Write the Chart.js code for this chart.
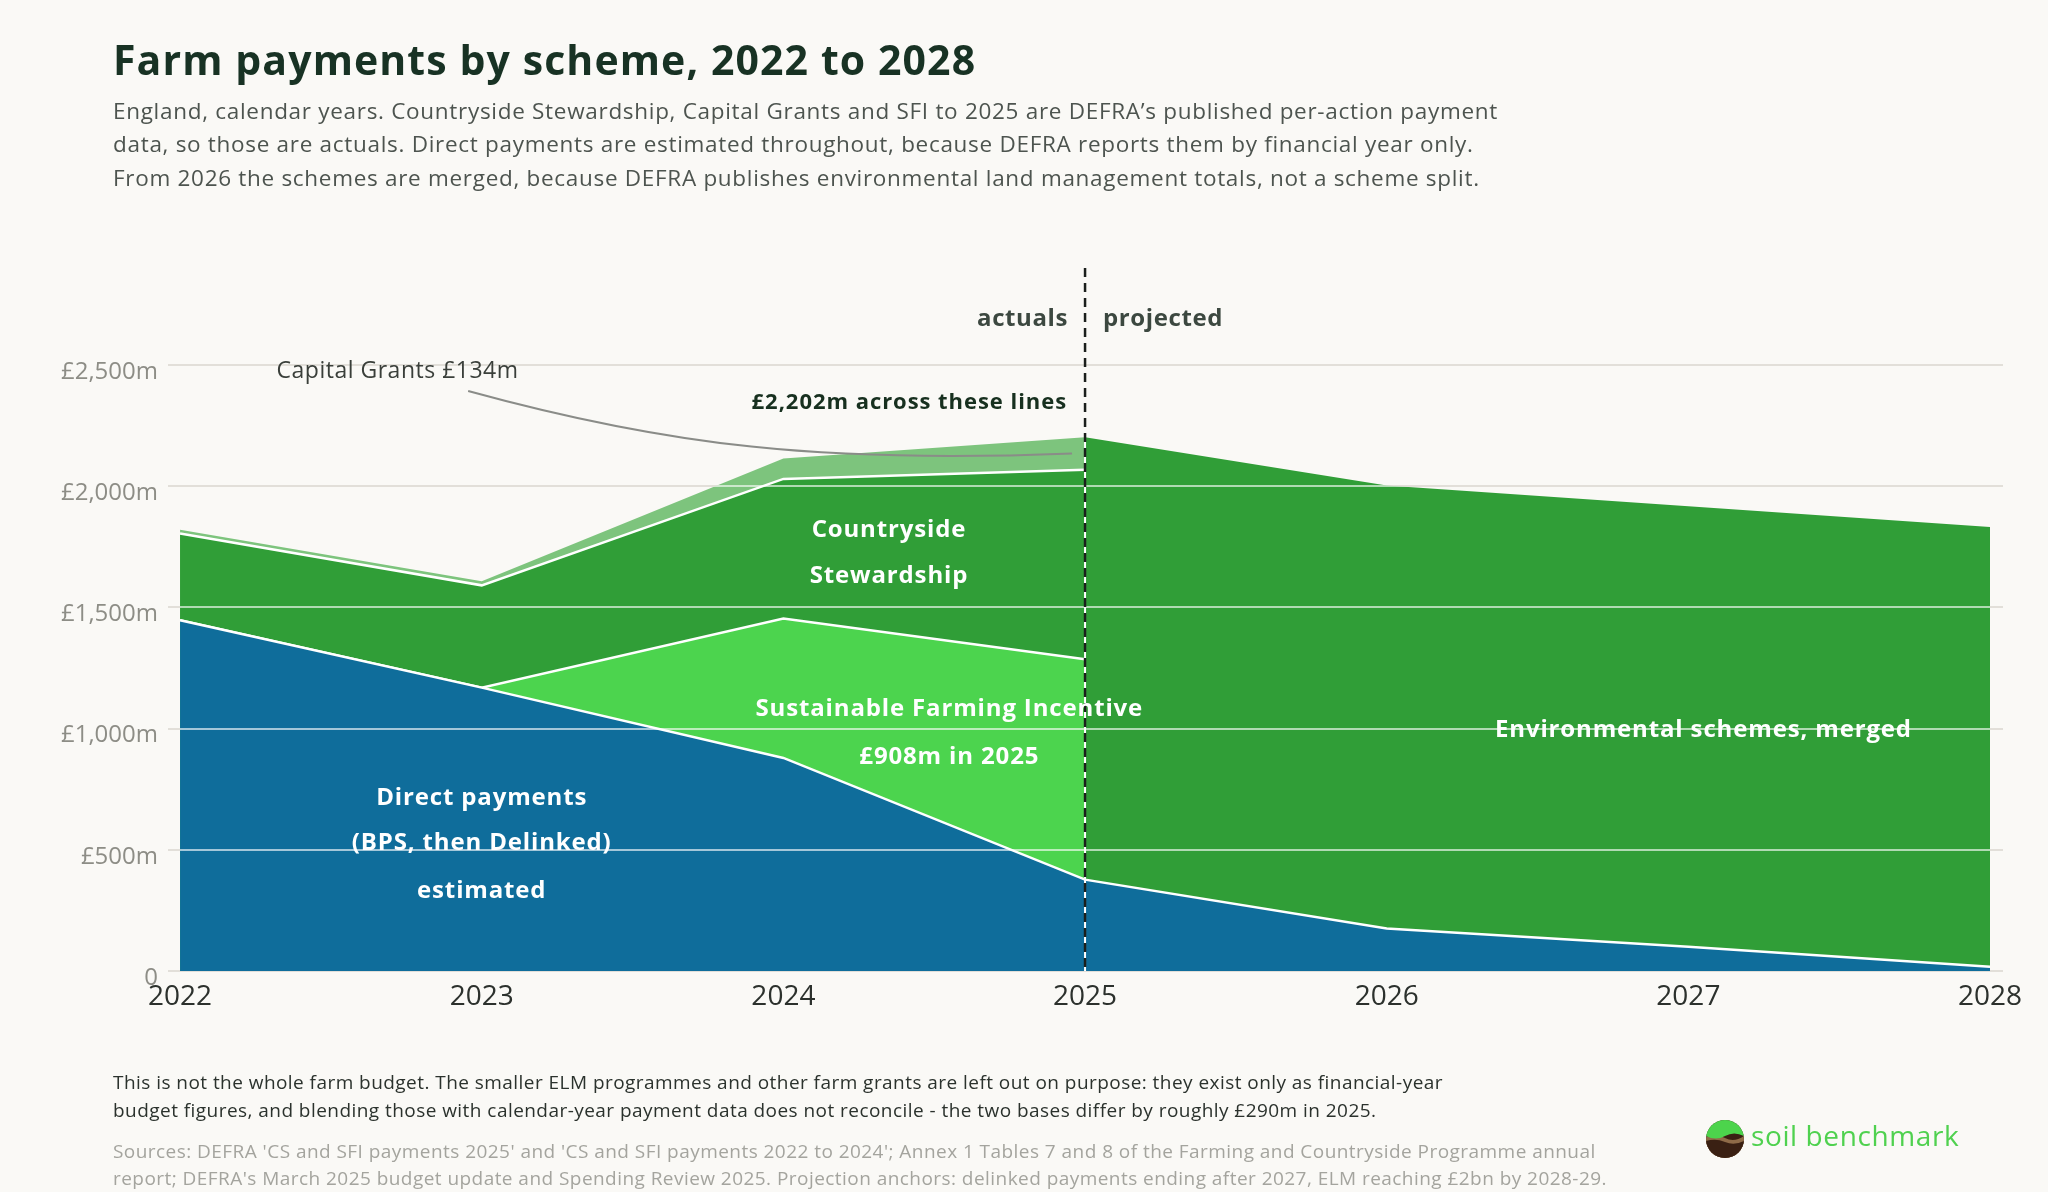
<!DOCTYPE html>
<html>
<head>
<meta charset="utf-8">
<script src="https://cdn.jsdelivr.net/npm/chart.js@4.4.1/dist/chart.umd.min.js"></script>
<style>
  html, body { margin: 0; padding: 0; background: #faf9f6; }
  #wrap { position: relative; width: 2048px; height: 1192px; overflow: hidden; font-family: "Open Sans", sans-serif; }
  #c { position: absolute; left: 0; top: 0; }
  .t { position: absolute; white-space: nowrap; }
  #title { left: 113px; top: 33px; font-size: 41px; font-weight: 700; line-height: 53px; letter-spacing: 1.1px; color: #183224; }
  #sub { left: 113px; top: 94px; font-size: 22.5px; line-height: 33.3px; letter-spacing: 0.7px; color: #4d544f; }
  #foot { left: 113px; top: 1068px; font-size: 19px; line-height: 28.4px; letter-spacing: 0.45px; color: #2b322d; }
  #src { left: 113px; top: 1138px; font-size: 19px; line-height: 26.7px; letter-spacing: 0.45px; color: #a4a49e; }
  #logo { left: 1706px; top: 1120px; }
  #brand { left: 1751px; top: 1117px; font-size: 28px; line-height: 36px; letter-spacing: 0.6px; color: #4fd14f; }
</style>
</head>
<body>
<div id="wrap">
  <canvas id="c" width="2048" height="1192"></canvas>
  <div class="t" id="title">Farm payments by scheme, 2022 to 2028</div>
  <div class="t" id="sub">England, calendar years. Countryside Stewardship, Capital Grants and SFI to 2025 are DEFRA’s published per-action payment<br>data, so those are actuals. Direct payments are estimated throughout, because DEFRA reports them by financial year only.<br>From 2026 the schemes are merged, because DEFRA publishes environmental land management totals, not a scheme split.</div>
  <div class="t" id="foot">This is not the whole farm budget. The smaller ELM programmes and other farm grants are left out on purpose: they exist only as financial-year<br>budget figures, and blending those with calendar-year payment data does not reconcile - the two bases differ by roughly £290m in 2025.</div>
  <div class="t" id="src">Sources: DEFRA 'CS and SFI payments 2025' and 'CS and SFI payments 2022 to 2024'; Annex 1 Tables 7 and 8 of the Farming and Countryside Programme annual<br>report; DEFRA's March 2025 budget update and Spending Review 2025. Projection anchors: delinked payments ending after 2027, ELM reaching £2bn by 2028-29.</div>
  <svg class="t" id="logo" width="38" height="38" viewBox="0 0 38 38">
    <defs><clipPath id="cl"><circle cx="19" cy="19" r="19"/></clipPath></defs>
    <g clip-path="url(#cl)">
      <rect width="38" height="38" fill="#3a2013"/>
      <path d="M0 17 Q10 13 19 18 T38 16 V38 H0Z" fill="#8f6b48"/>
      <path d="M0 21 Q10 18 19 22 T38 21 V38 H0Z" fill="#3a2013"/>
      <path d="M0 0 H38 V16 Q28 11 19 16 T0 16Z" fill="#4cd44c"/>
    </g>
  </svg>
  <div class="t" id="brand">soil benchmark</div>
</div>
<script>
// values in £m, calendar years
const years = [2022, 2023, 2024, 2025, 2026, 2027, 2028];
const actualYears = [2022, 2023, 2024, 2025];
const projYears = [2025, 2026, 2027, 2028];
const directPay = [1447, 1169, 879, 377, 175, 100, 18];
const sfiPay = [0, 0, 575, 909];
const csPay = [358, 422, 576, 782];
const capitalGrants = [15, 17, 84, 134];
const mergedPay = [1825, 1828, 1817, 1814];
const yTicks = [0, 500, 1000, 1500, 2000, 2500];

const BLUE = '#0f6d9b', GREEN = '#309e37', SFI_GREEN = '#4cd44e', CAP_GREEN = '#7dc47d';
const FONT = '"Open Sans", sans-serif';

// stacked tops, built from the arrays above
const directTop = years.map((yr, i) => ({ x: yr, y: directPay[i] }));
const sfiTop = actualYears.map((yr, i) => ({ x: yr, y: directPay[i] + sfiPay[i] }));
const csTop = actualYears.map((yr, i) => ({ x: yr, y: directPay[i] + sfiPay[i] + csPay[i] }));
const capTop = actualYears.map((yr, i) => ({ x: yr, y: directPay[i] + sfiPay[i] + csPay[i] + capitalGrants[i] }));
const mergedTop = projYears.map((yr, i) => ({ x: yr, y: directPay[years.indexOf(yr)] + mergedPay[i] }));

const total2025 = capTop[3].y;

// white text inside the areas, anchored in data units
const areaLabels = [
  { x: 2024.35, y: [1789, 1601], text: ['Countryside', 'Stewardship'] },
  { x: 2024.55, y: [1051, 852], text: ['Sustainable Farming Incentive', '£908m in 2025'] },
  { x: 2023.0, y: [684, 498, 301], text: ['Direct payments', '(BPS, then Delinked)', 'estimated'] },
  { x: 2027.05, y: [966], text: ['Environmental schemes, merged'] }
];

function area(label, data, fillColor, line) {
  return {
    label: label,
    data: data,
    backgroundColor: fillColor,
    borderColor: line ? '#ffffff' : 'rgba(0,0,0,0)',
    borderWidth: line ? 2.5 : 1,
    fill: 'origin',
    pointRadius: 0,
    tension: 0
  };
}

const overlay = {
  id: 'overlay',
  afterDatasetsDraw(chart) {
    const { ctx, chartArea: a, scales: { y } } = chart;
    ctx.save();
    ctx.lineWidth = 2;
    // light lines across the coloured areas only
    ctx.globalCompositeOperation = 'source-atop';
    ctx.strokeStyle = 'rgba(255,255,255,0.62)';
    yTicks.forEach(v => {
      if (v === 0) return;
      const py = Math.round(y.getPixelForValue(v));
      ctx.beginPath(); ctx.moveTo(a.left, py); ctx.lineTo(a.right, py); ctx.stroke();
    });
    // grey grid behind everything else
    ctx.globalCompositeOperation = 'destination-over';
    ctx.strokeStyle = '#e2dfd9';
    yTicks.forEach(v => {
      const py = Math.round(y.getPixelForValue(v));
      ctx.beginPath(); ctx.moveTo(a.left, py); ctx.lineTo(a.right, py); ctx.stroke();
    });
    ctx.restore();
  },
  afterDraw(chart) {
    const { ctx, scales: { x, y } } = chart;
    const x25 = x.getPixelForValue(2025);
    ctx.save();

    // actuals / projected divider
    ctx.strokeStyle = '#ffffff';
    ctx.lineWidth = 2;
    ctx.beginPath(); ctx.moveTo(x25, y.getPixelForValue(0)); ctx.lineTo(x25, y.getPixelForValue(total2025)); ctx.stroke();
    ctx.strokeStyle = '#1b1f1c';
    ctx.lineWidth = 2.5;
    ctx.setLineDash([9, 6]);
    ctx.beginPath(); ctx.moveTo(x25, y.getPixelForValue(2900)); ctx.lineTo(x25, y.getPixelForValue(0)); ctx.stroke();
    ctx.setLineDash([]);

    ctx.textBaseline = 'alphabetic';
    ctx.fillStyle = '#3c4840';
    ctx.font = '700 24px ' + FONT;
    ctx.letterSpacing = '0.6px';
    ctx.textAlign = 'right';
    ctx.fillText('actuals', x25 - 17, y.getPixelForValue(2661));
    ctx.textAlign = 'left';
    ctx.fillText('projected', x25 + 18, y.getPixelForValue(2661));

    ctx.fillStyle = '#17301f';
    ctx.font = '700 22px ' + FONT;
    ctx.letterSpacing = '0.95px';
    ctx.textAlign = 'right';
    ctx.fillText('£2,202m across these lines', x25 - 18, y.getPixelForValue(2317));

    // capital grants callout
    ctx.fillStyle = '#3a3f3a';
    ctx.font = '400 23px ' + FONT;
    ctx.letterSpacing = '0.5px';
    ctx.textAlign = 'left';
    ctx.fillText('Capital Grants £' + capitalGrants[3] + 'm', x.getPixelForValue(2022.32), y.getPixelForValue(2445));
    const sx = x.getPixelForValue(2022.955), sy = y.getPixelForValue(2393);
    const ex = x25 - 13, ey = y.getPixelForValue(total2025 - capitalGrants[3] / 2);
    ctx.strokeStyle = '#8a8c88';
    ctx.lineWidth = 2;
    ctx.beginPath();
    ctx.moveTo(sx, sy);
    ctx.bezierCurveTo(sx + 200, sy + 55, ex - 250, ey + 10, ex, ey);
    ctx.stroke();

    // area labels
    ctx.fillStyle = '#ffffff';
    ctx.font = '700 24px ' + FONT;
    ctx.letterSpacing = '0.85px';
    ctx.textAlign = 'center';
    areaLabels.forEach(l => {
      l.text.forEach((s, i) => ctx.fillText(s, x.getPixelForValue(l.x), y.getPixelForValue(l.y[i])));
    });
    ctx.restore();
  }
};

new Chart(document.getElementById('c'), {
  type: 'line',
  data: {
    datasets: [
      area('Direct payments', directTop, BLUE, true),
      area('Sustainable Farming Incentive', sfiTop, SFI_GREEN, true),
      area('Countryside Stewardship', csTop, GREEN, true),
      area('Environmental schemes, merged', mergedTop, GREEN, false),
      area('Capital Grants', capTop, CAP_GREEN, false)
    ]
  },
  options: {
    responsive: false,
    animation: false,
    devicePixelRatio: 1,
    layout: { padding: { left: 0, right: 45, top: 365, bottom: 161 } },
    plugins: { legend: { display: false }, tooltip: { enabled: false } },
    scales: {
      x: {
        type: 'linear',
        min: 2021.96,
        max: 2028.043,
        grid: { display: false, drawTicks: false },
        border: { display: false },
        afterBuildTicks: s => { s.ticks = years.map(v => ({ value: v })); },
        afterFit: s => { s.height = 60; },
        ticks: {
          autoSkip: false,
          maxRotation: 0,
          padding: 9,
          color: '#2c312d',
          font: { family: FONT, size: 28 },
          callback: v => String(v)
        }
      },
      y: {
        min: 0,
        max: 2500,
        grid: { display: false, drawTicks: false },
        border: { display: false },
        afterBuildTicks: s => { s.ticks = yTicks.map(v => ({ value: v })); },
        afterFit: s => { s.width = 168; },
        ticks: {
          padding: 10,
          labelOffset: 7,
          color: '#8d8d86',
          font: { family: FONT, size: 24 },
          callback: v => v === 0 ? '0' : '£' + v.toLocaleString('en-GB') + 'm'
        }
      }
    }
  },
  plugins: [overlay]
});
</script>
</body>
</html>
